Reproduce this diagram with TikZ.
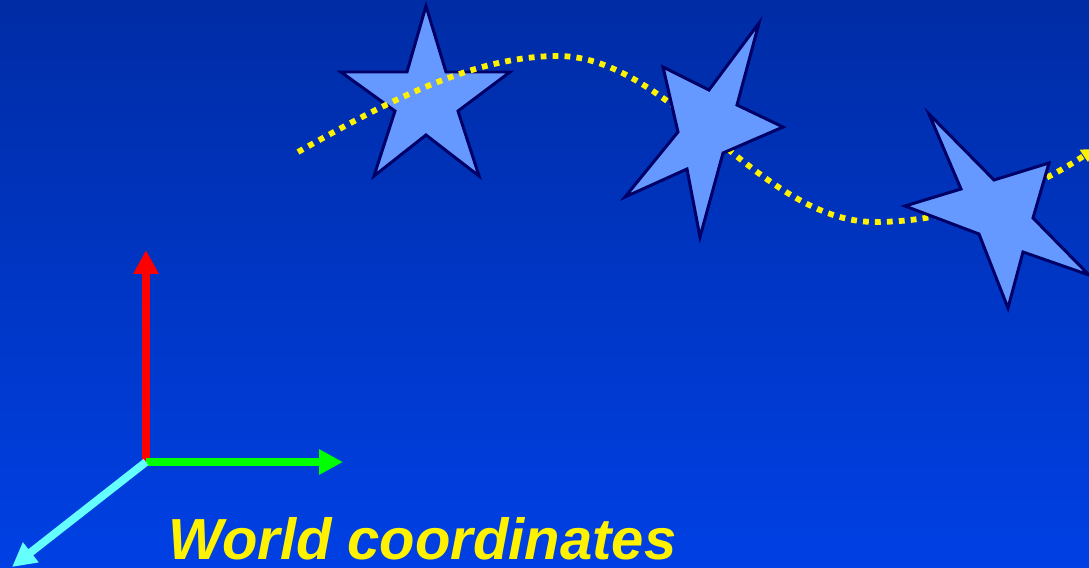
\documentclass[tikz,border=0pt]{standalone}
\usepackage{fontspec}
\setmainfont{Liberation Sans}
\usetikzlibrary{arrows.meta}
\definecolor{bgtop}{RGB}{0,44,165}
\definecolor{bgbot}{RGB}{0,64,228}
\definecolor{starfill}{RGB}{102,153,255}
\definecolor{staredge}{RGB}{0,0,102}
\definecolor{axisz}{RGB}{102,255,255}

\begin{document}
\begin{tikzpicture}[x=0.02cm,y=-0.02cm,
  starpoly/.style={fill=starfill,draw=staredge,line width=1.7pt,line join=miter},
  axisline/.style={line width=4.5pt,-{Triangle[length=13.6pt,width=13.6pt]}},
  pathline/.style={yellow,line width=3.3pt,dash pattern=on 3.3pt off 3.5pt,
    -{Triangle[length=7pt,width=8pt]}}]
% background
\shade[top color=bgtop,bottom color=bgbot] (0,0) rectangle (1089,568);
\useasboundingbox (0,0) rectangle (1089,568);
% first star (upright)
\draw[starpoly] (426,6) -- (446,72) -- (510,72) -- (458,111) -- (479,176)
  -- (426,135) -- (374,176) -- (395,111) -- (341,72) -- (407,72) -- cycle;
% motion path
\draw[pathline] (298,152) .. controls (390,100) and (475,56) .. (558,56)
  .. controls (670,56) and (760,222) .. (875,222)
  .. controls (965,222) and (1045,182) .. (1094,149);
% second star (turned)
\draw[starpoly] (759,23) -- (737,105) -- (783,127) -- (723,153) -- (700,237)
  -- (687,169) -- (625,197) -- (678,132) -- (663,67) -- (709,90) -- cycle;
% third star (turned further)
\draw[starpoly] (929,114) -- (994,180) -- (1049,163) -- (1033,218) -- (1089,275)
  -- (1023,252) -- (1008,308) -- (979,234) -- (905,206) -- (961,189) -- cycle;
% axes
\coordinate (origin) at (146,462);
\coordinate (ytip) at (146,250);
\coordinate (xtip) at (343,462);
\coordinate (ztip) at (12,567);
\draw[axisline,red] (origin) -- (ytip);
\draw[axisline,green] (origin) -- (xtip);
\draw[axisline,axisz] (origin) -- (ztip);
% label
\node[anchor=base west,inner sep=0pt,text=yellow,
  font=\bfseries\itshape\fontsize{33}{40}\selectfont] (caption) at (168,559) {World coordinates};
\end{tikzpicture}
\end{document}
